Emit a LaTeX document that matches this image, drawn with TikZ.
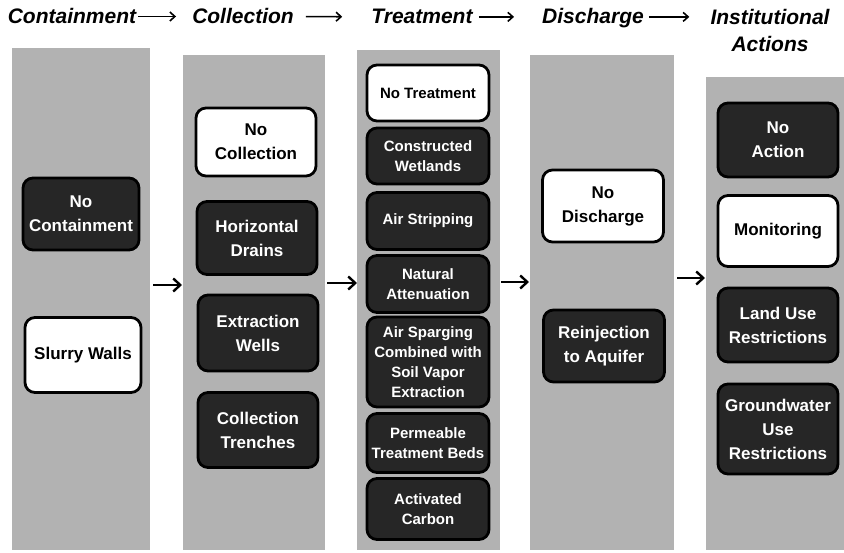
\documentclass[tikz,border=0pt]{standalone}
\usepackage{fontspec}
\setmainfont{Liberation Sans}
\usetikzlibrary{arrows.meta,positioning}

\tikzset{
  panel/.style={fill=black!30, draw=none, inner sep=0pt},
  optbox/.style={rounded corners=10pt, line width=2.8pt, draw=black, align=center,
    inner sep=2pt, font=\bfseries\fontsize{17}{24}\selectfont},
  darkbox/.style={optbox, fill=black!85, text=white},
  lightbox/.style={optbox, fill=white, text=black},
  small/.style={font=\bfseries\fontsize{15}{20}\selectfont},
  header/.style={font=\bfseries\itshape\fontsize{21}{27}\selectfont, inner sep=0pt, align=center},
  flow/.style={-{Straight Barb[length=7pt,width=13pt,line width=2.4pt]}, line width=2.4pt},
  hflow/.style={-{Straight Barb[length=5pt,width=9pt,line width=1.6pt]}, line width=1.6pt}
}

\begin{document}
\begin{tikzpicture}[x=1pt,y=-1pt]
  \useasboundingbox (0,0) rectangle (844,553);
  % Grey panels
  \fill[panel] (12,48) rectangle (150,550);
  \fill[panel] (183,55) rectangle (325,550);
  \fill[panel] (357,50) rectangle (500,550);
  \fill[panel] (530,55) rectangle (674,550);
  \fill[panel] (706,77) rectangle (844,550);

  % Headers
  \node[header, anchor=base] (hcont) at (72,24) {Containment};
  \node[header, anchor=base] (hcoll) at (243,24) {Collection};
  \node[header, anchor=base] (htreat) at (422,24) {Treatment};
  \node[header, anchor=base] (hdisch) at (593,24) {Discharge};
  \node[header] (hinst) at (770,30) {Institutional\\Actions};
  \draw[hflow, shorten <=2pt, shorten >=16pt] (hcont.east) -- (hcoll.west);
  \draw[hflow, shorten <=12pt, shorten >=29pt] (hcoll.east) -- (htreat.west);
  \draw[hflow, shorten <=6pt, shorten >=28pt] (htreat.east) -- (htreat.east -| hdisch.west);
  \draw[hflow, shorten <=5pt, shorten >=21pt] (hdisch.east |- htreat.east) -- (htreat.east -| hinst.west);

  % Containment
  \node[darkbox, minimum width=116pt, minimum height=72pt] (nocont) at (81,214) {No\\Containment};
  \node[lightbox, minimum width=116pt, minimum height=75pt] (slurry) at (83,355) {Slurry Walls};

  % Collection
  \node[lightbox, minimum width=120pt, minimum height=68pt] (nocoll) at (256,142) {No\\Collection};
  \node[darkbox, minimum width=120pt, minimum height=73pt] (hdrains) at (257,238) {Horizontal\\Drains};
  \node[darkbox, minimum width=120pt, minimum height=76pt] (extwells) at (258,333) {Extraction\\Wells};
  \node[darkbox, minimum width=120pt, minimum height=75pt] (colltr) at (258,430) {Collection\\Trenches};

  % Treatment
  \node[lightbox, small, minimum width=122pt, minimum height=56pt] (notreat) at (428,93) {No Treatment};
  \node[darkbox, small, minimum width=122pt, minimum height=56pt] (wetl) at (428,156) {Constructed\\Wetlands};
  \node[darkbox, small, minimum width=122pt, minimum height=57pt] (airstrip) at (428,221) {Air Stripping};
  \node[darkbox, small, minimum width=122pt, minimum height=57pt] (natatt) at (428,284) {Natural\\Attenuation};
  \node[darkbox, small, minimum width=122pt, minimum height=90pt] (sparge) at (428,362) {Air Sparging\\Combined with\\Soil Vapor\\Extraction};
  \node[darkbox, small, minimum width=122pt, minimum height=59pt] (permbed) at (428,443) {Permeable\\Treatment Beds};
  \node[darkbox, small, minimum width=122pt, minimum height=61pt] (actcarb) at (428,509) {Activated\\Carbon};

  % Discharge
  \node[lightbox, minimum width=121pt, minimum height=72pt] (nodisch) at (603,206) {No\\Discharge};
  \node[darkbox, minimum width=121pt, minimum height=72pt] (reinj) at (604,346) {Reinjection\\to Aquifer};

  % Institutional actions
  \node[darkbox, minimum width=120pt, minimum height=74pt] (noact) at (778,140) {No\\Action};
  \node[lightbox, minimum width=120pt, minimum height=71pt] (monit) at (778,231) {Monitoring};
  \node[darkbox, minimum width=120pt, minimum height=74pt] (landuse) at (778,325) {Land Use\\Restrictions};
  \node[darkbox, minimum width=120pt, minimum height=90pt] (gwuse) at (778,429) {Groundwater\\Use\\Restrictions};

  % Arrows between panels
  \coordinate (a1) at (153,285);
  \coordinate (b1) at (182,285);
  \coordinate (a2) at (327,283);
  \coordinate (b2) at (357,283);
  \coordinate (a3) at (501,282);
  \coordinate (b3) at (529,282);
  \coordinate (a4) at (677,278);
  \coordinate (b4) at (705,278);
  \draw[flow] (a1) -- (b1);
  \draw[flow] (a2) -- (b2);
  \draw[flow] (a3) -- (b3);
  \draw[flow] (a4) -- (b4);
\end{tikzpicture}
\end{document}
